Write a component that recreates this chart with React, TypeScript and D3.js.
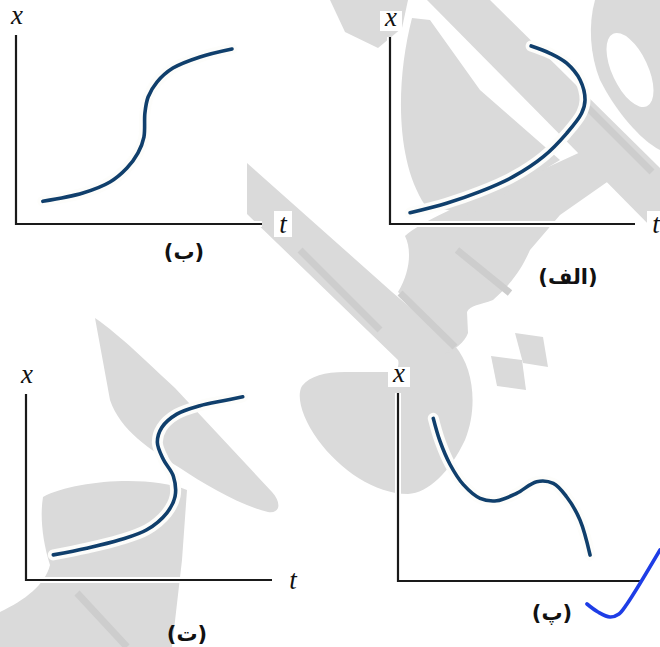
import React, { useEffect, useRef } from "react";
import * as d3 from "d3";

// ---- Curve samples (t, x) for each panel, in axis units 0..100 ----
const tAlef = [8.2, 23.1, 36.7, 50.3, 62.6, 72.1, 78.2, 79.6, 77.6, 72.1, 65.3, 57.6];
const xAlef = [6.0, 11.1, 17.3, 25.3, 36.0, 48.5, 59.2, 66.3, 77.0, 86.0, 91.3, 95.2];

const tBe = [10.9, 27.2, 38.2, 45.1, 49.6, 52.0, 52.4, 53.7, 57.3, 63.8, 74.8, 87.8];
const xBe = [12.0, 16.4, 22.2, 29.6, 37.6, 46.0, 58.7, 67.2, 75.1, 82.5, 88.4, 92.6];

const tPe = [14.4, 17.1, 21.2, 26.6, 33.5, 40.3, 48.4, 56.6, 63.4, 68.8, 74.3, 78.4];
const xPe = [86.5, 74.5, 62.1, 51.4, 44.0, 42.7, 46.6, 52.8, 51.9, 44.8, 32.4, 13.8];

const tTe = [11.1, 24.7, 38.2, 49.1, 57.2, 60.6, 59.9, 55.8, 53.4, 55.2, 61.3, 70.7, 80.2, 88.1];
const xTe = [13.5, 17.1, 21.6, 27.0, 36.0, 45.0, 55.8, 64.9, 73.9, 82.0, 89.2, 93.7, 96.4, 98.5];

// Panel captions
const captions = ["(ب)", "(الف)", "(ت)", "(پ)"];
const axisNames = { x: "x", t: "t" };

// Panel frames: origin of the axes and axis lengths
const frames = [
  { ox: 16, oy: 224, w: 246, h: 189, cap: [184, 259], showT: true },
  { ox: 390, oy: 224, w: 245, h: 187, cap: [568, 284], showT: true },
  { ox: 26, oy: 580, w: 246, h: 186, cap: [187, 641], showT: true },
  { ox: 398, oy: 581, w: 245, h: 188, cap: [552, 620], showT: false },
];
const series = [
  [tBe, xBe],
  [tAlef, xAlef],
  [tTe, xTe],
  [tPe, xPe],
];

// Background watermark shapes
const wmShapes = [
  // long diagonal stroke with curl at its end
  "M247,163 L392,292 L455,346 C474,368 478,408 465,440 C450,472 428,493 408,494 C375,494 340,470 318,440 C302,418 296,396 302,386 C310,376 325,372 345,372 L390,372 C396,372 400,366 398,360 L247,214 Z",
  // body joined to the upper right
  "M398,292 C410,272 412,250 405,236 C420,222 470,200 520,180 L585,150 L610,180 L560,215 L530,250 C522,268 513,282 493,300 C480,305 470,305 467,312 L468,333 C465,342 455,350 440,357 L455,346 Z",
  // diagonal band in the top right
  "M427,0 L490,0 L660,168 L660,236 Z",
  // rounded blob inside the top-right panel
  "M412,18 C396,80 395,160 425,205 L470,215 L560,160 L480,90 L430,20 Z",
  // small piece at the top edge
  "M330,0 L408,0 L402,28 L378,48 L345,32 Z",
  // two square dots
  "M515,333 L543,337 L548,367 L523,363 Z",
  "M491,356 L522,360 L526,390 L497,386 Z",
  // wedge in the lower-left panel
  "M95,318 C120,335 150,365 175,388 L272,492 C282,503 280,514 268,512 C240,505 205,485 180,468 C150,450 120,430 110,400 Z",
  // lower-left blob
  "M43,497 C75,480 150,475 187,490 L182,560 L172,647 L0,647 L0,612 C25,600 45,585 50,565 C42,540 40,515 43,497 Z",
];
const wmRing = "M595,0 L660,0 L660,150 C640,140 615,110 600,80 C590,55 588,25 595,0 Z";
const wmStripes = [
  [[300, 250], [380, 330]],
  [[400, 293], [455, 347]],
  [[457, 250], [510, 293]],
  [[588, 108], [652, 172]],
  [[77, 593], [127, 647]],
];

// Tick mark drawn over the lower-right panel
const checkPts: [number, number][] = [
  [587, 604], [598, 612], [610, 617], [619, 614], [627, 604], [660, 550],
];

export default function App() {
  const ref = useRef<SVGSVGElement | null>(null);

  useEffect(() => {
    const svg = d3.select(ref.current);
    svg.selectAll("*").remove();

    svg.append("rect").attr("width", 660).attr("height", 647).attr("fill", "#ffffff");

    // watermark
    const wm = svg.append("g");
    wmShapes.forEach((d) => wm.append("path").attr("d", d).attr("fill", "#dadada"));
    wm.append("path")
      .attr("d", wmRing)
      .attr("fill", "#dadada");
    wm.append("ellipse")
      .attr("cx", 630).attr("cy", 70).attr("rx", 18).attr("ry", 40)
      .attr("transform", "rotate(-25,630,70)")
      .attr("fill", "#ffffff");
    wmStripes.forEach(([a, b]) =>
      wm.append("line")
        .attr("x1", a[0]).attr("y1", a[1]).attr("x2", b[0]).attr("y2", b[1])
        .attr("stroke", "#cdcdcd").attr("stroke-width", 7)
    );

    frames.forEach((f, i) => {
      const xs = d3.scaleLinear().domain([0, 100]).range([f.ox, f.ox + f.w]);
      const ys = d3.scaleLinear().domain([0, 100]).range([f.oy, f.oy - f.h]);
      const [ts, vs] = series[i];
      const pts = ts.map((t, k) => [t, vs[k]] as [number, number]);
      const line = d3.line<[number, number]>()
        .x((d) => xs(d[0]))
        .y((d) => ys(d[1]))
        .curve(d3.curveCatmullRom.alpha(0.5));

      const g = svg.append("g");
      // white halo behind the content
      g.append("path").attr("d", line(pts)).attr("fill", "none")
        .attr("stroke", "#fdfdfb").attr("stroke-width", 11).attr("stroke-linecap", "round");
      g.append("path")
        .attr("d", `M${f.ox},${f.oy - f.h}V${f.oy}H${f.ox + f.w}`)
        .attr("fill", "none").attr("stroke", "#fff").attr("stroke-width", 6);

      // axes
      g.append("path")
        .attr("d", `M${f.ox},${f.oy - f.h}V${f.oy}H${f.ox + f.w}`)
        .attr("fill", "none").attr("stroke", "#1a1a1a").attr("stroke-width", 2.2);

      // curve
      g.append("path").attr("d", line(pts)).attr("fill", "none")
        .attr("stroke", "#103f6c").attr("stroke-width", 3.6).attr("stroke-linecap", "round");

      // axis names
      const xl = g.append("g").attr("transform", `translate(${f.ox + 1},${f.oy - f.h - 11})`);
      xl.append("rect").attr("x", -11).attr("y", -15).attr("width", 22).attr("height", 20).attr("fill", "#fff");
      xl.append("text").attr("text-anchor", "middle")
        .attr("font-family", "'Liberation Serif', serif").attr("font-style", "italic")
        .attr("font-size", 27).attr("fill", "#111").text(axisNames.x);

      if (f.showT) {
        const tl = g.append("g").attr("transform", `translate(${f.ox + f.w + 21},${f.oy + 9})`);
        tl.append("rect").attr("x", -9).attr("y", -22).attr("width", 18).attr("height", 26).attr("fill", "#fff");
        tl.append("text").attr("text-anchor", "middle")
          .attr("font-family", "'Liberation Serif', serif").attr("font-style", "italic")
          .attr("font-size", 27).attr("fill", "#111").text(axisNames.t);
      }

      // caption
      const cl = g.append("g").attr("transform", `translate(${f.cap[0]},${f.cap[1]})`);
      cl.append("text").attr("text-anchor", "middle")
        .attr("font-family", "'DejaVu Sans', sans-serif").attr("font-weight", "bold")
        .attr("font-size", 21).attr("fill", "#111").text(captions[i]);
    });

    // hand-drawn tick
    svg.append("path")
      .attr("d", d3.line().curve(d3.curveCatmullRom.alpha(0.5))(checkPts))
      .attr("fill", "none").attr("stroke", "#1e3de6").attr("stroke-width", 3.6)
      .attr("stroke-linecap", "round");
  }, []);

  return (
    <div style={{ position: "absolute", left: 0, top: 0 }}>
      <svg ref={ref} width={660} height={647} style={{ display: "block" }} />
    </div>
  );
}
